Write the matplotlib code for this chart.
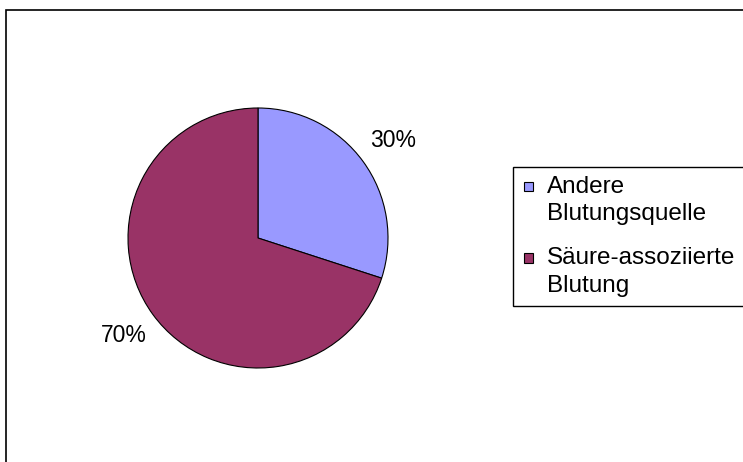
import matplotlib.pyplot as plt
from matplotlib.patches import Rectangle
from matplotlib.legend_handler import HandlerPatch

plt.rcParams['font.family'] = ['Liberation Sans', 'DejaVu Sans']

labels = ["Andere\nBlutungsquelle", "Säure-assoziierte\nBlutung"]
shares = [30, 70]
colors = ["#9999FF", "#993366"]

W, H = 743, 462
FS = 16.5
LFS = 17.5
fig = plt.figure(figsize=(W / 100, H / 100), dpi=100)

# outer chart border (runs off the right and bottom edge)
fig.patches.append(Rectangle((5.5 / W, -0.05), 1.1, 1 - 9.5 / H + 0.05,
                             transform=fig.transFigure, fill=False,
                             edgecolor="black", linewidth=1.2))

# pie centred at (258, 238) px, radius 130 px
cx, cy, r = 258, 238, 130
ax = fig.add_axes([(cx - r) / W, (H - cy - r) / H, 2 * r / W, 2 * r / H])
wedges, texts, autotexts = ax.pie(
    shares, colors=colors, startangle=90, counterclock=False,
    autopct="%d%%", pctdistance=1.28, radius=1,
    wedgeprops=dict(edgecolor="black", linewidth=0.8),
    textprops=dict(fontsize=FS, color="black"))
ax.set_xlim(-1, 1)
ax.set_ylim(-1, 1)
ax.set_aspect("equal")


def square(legend, orig_handle, xdescent, ydescent, width, height, fontsize):
    # small square lined up with the first line of the label
    return Rectangle((-xdescent + 0.12 * fontsize, -ydescent - 0.15 * fontsize),
                     width, width * 1.05)


leg = fig.legend(wedges, labels, loc="upper left",
                 bbox_to_anchor=(513 / W, 1 - 167 / H),
                 fontsize=LFS, frameon=True, fancybox=False,
                 edgecolor="black", framealpha=1, borderaxespad=0,
                 handlelength=0.36, handleheight=0.36, handletextpad=0.7,
                 labelspacing=0.9, borderpad=0.35,
                 handler_map={w: HandlerPatch(patch_func=square) for w in wedges})
leg.get_frame().set_linewidth(1.0)
for t in leg.get_texts():
    t.set_linespacing(1.35)
for hp in leg._legend_handle_box.get_children():
    for row in hp.get_children():
        row.align = "top"

fig.savefig("out.png", dpi=100)
